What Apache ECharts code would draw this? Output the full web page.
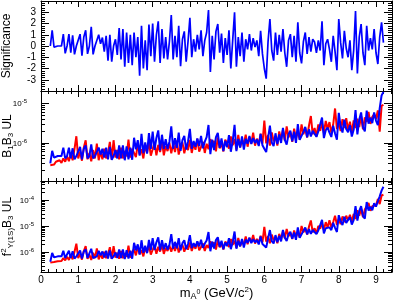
<!DOCTYPE html>
<html><head><meta charset="utf-8">
<script src="https://cdn.jsdelivr.net/npm/echarts@6/dist/echarts.min.js"></script>
<style>html,body{margin:0;padding:0;background:#fff}#c{width:398px;height:300px}</style>
</head><body><div id="c"></div>
<script>
// Mass points (GeV/c^2)
const massGeV = [
0.25,0.30,0.35,0.40,0.45,0.50,0.55,0.60,0.65,0.70,0.75,0.80,0.85,0.90,0.95,
1.00,1.05,1.10,1.15,1.20,1.25,1.30,1.35,1.40,1.45,1.50,1.55,1.60,1.65,1.70,1.75,1.80,1.85,1.90,1.95,
2.00,2.05,2.10,2.15,2.20,2.25,2.30,2.35,2.40,2.45,2.50,2.55,2.60,2.65,2.70,2.75,2.80,2.85,2.90,2.95,
3.00,3.05,3.10,3.15,3.20,3.25,3.30,3.35,3.40,3.45,3.50,3.55,3.60,3.65,3.70,3.75,3.80,3.85,3.90,3.95,
4.00,4.05,4.10,4.15,4.20,4.25,4.30,4.35,4.40,4.45,4.50,4.55,4.60,4.65,4.70,4.75,4.80,4.85,4.90,4.95,
5.00,5.05,5.10,5.15,5.20,5.25,5.30,5.35,5.40,5.45,5.50,5.55,5.60,5.65,5.70,5.75,5.80,5.85,5.90,5.95,
6.00,6.05,6.10,6.15,6.20,6.25,6.30,6.35,6.40,6.45,6.50,6.55,6.60,6.65,6.70,6.75,6.80,6.85,6.90,6.95,
7.00,7.05,7.10,7.15,7.20,7.25,7.30,7.35,7.40,7.45,7.50,7.55,7.60,7.65,7.70,7.75,7.80,7.85,7.90,7.95,
8.00,8.05,8.10,8.15,8.20,8.25,8.30,8.35,8.40,8.45,8.50,8.55,8.60,8.65,8.70,8.75,8.80,8.85,8.90,8.95,
9.00,9.05,9.10,9.15,9.20];

// Significance
const significance = [
0,1.4,-0.1,0,0,0,0,1.05,-0.65,0,1.05,-0.6,0.95,-0.75,0,
0,1.05,-0.85,0.8,1.4,-0.7,0,1.7,-0.75,0,0,1.0,0.2,0.75,-0.5,0.9,-1.3,1.0,-1.4,0,
0.6,-0.8,1.6,-1.2,1.5,-1.85,1.2,-1.5,1.0,-1.7,
1.2,-1.0,0.8,-2.65,1.8,-2.0,0.5,-2.15,1.9,-0.9,
2.0,-1.4,1.0,2.2,-1.5,1.5,-1.1,0.8,-1.2,0.4,
2.75,-1.2,0.9,-1.0,1.8,-1.8,0.6,1.3,-1.4,0.4,
2.5,-1.0,0.6,-0.5,1.0,-0.3,1.4,-0.9,0.5,1.2,
3.2,-2.3,0.9,-1.2,1.3,1.95,-0.6,1.1,-1.5,0.7,
-0.8,1.4,-2.0,0.5,3.0,-1.85,0.8,-0.9,1.2,-1.4,
0.6,-0.3,1.05,-0.4,0.7,-0.1,0.5,-0.9,1.35,-0.7,
-2.0,-2.9,0.4,2.4,-0.4,-1.3,1.2,-0.8,1.0,-0.5,
1.5,-0.6,-1.85,0.5,1.05,-1.0,0.9,-1.4,2.1,-0.6,
-1.55,0.4,1.2,-0.7,0.8,-0.5,0.6,0.35,-0.6,0.5,
-0.4,2.2,-1.7,0.2,0.6,-0.3,-1.4,0.9,-0.5,-2.15,
2.4,0.3,-1.1,1.35,-0.2,-1.0,0.5,-2.15,-0.4,3.1,
-2.45,0.8,1.95,-0.6,-1.7,1.8,-0.4,0.7,-0.3,1.5,
-0.6,-1.6,0.8,2.1,0.3];

// B1*B3 upper limits, in units of 1e-6
const b1b3UL_red = [
0.27,0.30,0.28,0.33,0.30,0.36,0.31,0.40,0.33,0.45,0.34,0.55,0.36,0.70,1.45,
0.40,0.60,0.35,0.75,1.15,0.38,0.55,0.34,0.65,0.40,0.95,0.36,0.60,0.38,0.70,0.40,0.55,1.05,0.38,1.15,
0.42,0.65,0.38,0.75,0.40,0.62,0.45,1.20,0.42,0.70,
0.74,0.43,0.93,0.50,0.68,0.40,0.87,0.56,1.05,0.47,
0.68,1.02,0.48,0.88,0.58,1.09,0.48,0.82,0.61,0.99,
0.54,0.94,0.58,1.12,0.50,0.79,1.01,0.54,0.90,0.65,
1.17,0.55,0.94,0.66,1.25,0.59,0.78,1.05,0.55,0.94,
0.68,1.23,0.77,1.11,0.60,1.36,0.72,0.98,0.60,1.19,
0.95,0.71,1.43,0.86,1.24,0.67,1.57,0.76,1.14,0.95,
1.58,0.79,1.37,0.95,1.79,0.84,1.26,0.89,1.68,0.95,
3.60,0.96,1.56,0.84,1.80,1.08,1.44,0.84,1.92,1.20,
2.10,1.13,2.55,1.35,1.80,1.05,2.25,1.28,1.95,1.20,
2.88,1.62,2.34,1.35,2.70,4.68,1.62,2.34,1.44,2.88,
1.98,3.08,1.76,3.52,2.20,3.30,1.76,2.86,7.26,2.20,
3.12,1.95,3.90,2.34,4.16,2.08,3.38,1.82,3.64,2.34,
4.03,2.48,4.65,2.17,4.34,3.33,5.92,2.96,4.44,5.18,
4.0,6.5,1.9,8.4,9.0];
const b1b3UL_blue = [
0.30,0.62,0.42,0.46,0.46,0.46,0.46,0.75,0.40,0.46,0.75,0.40,0.72,0.38,0.46,
0.46,0.78,0.38,0.70,0.85,0.40,0.46,0.90,0.40,0.46,0.46,0.75,0.50,0.70,0.42,0.75,0.38,0.78,0.37,0.46,
0.65,0.40,0.85,0.40,0.85,0.36,0.80,0.38,0.75,0.37,
1.33,0.68,1.15,0.47,1.66,0.54,1.02,0.53,1.73,0.70,
1.89,0.66,1.31,2.03,0.64,1.58,0.70,1.22,0.69,1.04,
2.56,0.70,1.29,0.74,1.79,0.62,1.15,1.49,0.67,1.07,
2.23,0.70,1.10,0.79,1.28,0.82,1.48,0.72,1.06,1.37,
2.79,0.51,1.19,0.65,1.38,1.75,0.74,1.28,0.61,1.11,
0.77,1.55,0.59,1.10,2.81,0.61,1.24,0.75,1.44,0.67,
1.25,0.94,1.48,0.92,1.30,0.98,1.20,0.82,1.65,0.86,
0.70,0.58,1.28,2.68,1.01,0.82,1.72,0.92,1.60,0.98,
2.36,1.18,0.89,1.62,2.00,1.08,1.89,0.99,2.94,1.18,
1.13,1.86,2.50,1.37,2.16,1.43,2.00,1.82,1.40,1.92,
1.74,4.29,1.30,2.05,2.38,1.78,1.39,2.66,1.70,1.18,
5.61,2.58,1.80,3.80,2.20,1.84,2.76,1.42,2.10,6.60,
1.62,3.78,5.77,2.45,1.92,6.44,3.02,4.29,3.09,5.78,
3.6,2.75,7.4,15.4,19.0];

// f^2 * B3 upper limits, in units of 1e-6
const f2b3UL_red = [
0.39,0.44,0.41,0.48,0.44,0.52,0.45,0.58,0.48,0.65,0.49,0.80,0.52,1.02,2.10,
0.58,0.87,0.51,1.09,1.67,0.55,0.80,0.49,0.94,0.58,1.38,0.52,0.87,0.55,1.02,0.58,0.80,1.52,0.55,1.67,
0.61,0.94,0.55,1.09,0.58,0.90,0.65,1.74,0.61,1.02,
1.26,0.74,1.58,0.84,1.16,0.68,1.47,0.95,1.79,0.79,
1.22,1.83,0.85,1.59,1.04,1.95,0.85,1.46,1.10,1.77,
1.03,1.78,1.10,2.12,0.96,1.51,1.92,1.03,1.71,1.23,
2.34,1.09,1.87,1.33,2.50,1.17,1.56,2.11,1.09,1.87,
1.43,2.60,1.61,2.33,1.25,2.86,1.52,2.06,1.25,2.51,
2.09,1.57,3.14,1.88,2.72,1.46,3.45,1.67,2.51,2.09,
3.98,1.99,3.45,2.39,4.51,2.12,3.18,2.24,4.23,2.39,
9.36,2.50,4.06,2.18,4.68,2.81,3.74,2.18,4.99,3.12,
6.30,3.38,7.65,4.05,5.40,3.15,6.75,3.83,5.85,3.60,
10.1,5.67,8.19,4.73,9.45,16.4,5.67,8.19,5.04,10.1,
7.92,12.3,7.04,14.1,8.80,16.5,8.80,14.3,25.0,11.0,
18.7,11.7,23.4,14.0,25.0,16.6,27.0,14.6,29.1,18.7,
40.3,24.8,46.5,21.7,43.4,43.3,77.0,38.5,57.7,67.3,
63,110,70,150,160];
const f2b3UL_blue = [
0.42,0.92,0.62,0.68,0.68,0.68,0.68,1.11,0.59,0.68,1.11,0.59,1.07,0.56,0.68,
0.68,1.15,0.56,1.04,1.26,0.59,0.68,1.33,0.59,0.68,0.68,1.11,0.74,1.04,0.62,1.11,0.56,1.15,0.55,0.68,
0.96,0.59,1.26,0.59,1.26,0.53,1.18,0.56,1.11,0.55,
2.26,1.16,1.96,0.80,2.83,0.93,1.74,0.90,2.94,1.19,
3.40,1.19,2.35,3.66,1.16,2.84,1.27,2.19,1.24,1.88,
4.87,1.34,2.45,1.40,3.41,1.17,2.19,2.84,1.28,2.03,
4.45,1.41,2.20,1.57,2.55,1.65,2.96,1.44,2.11,2.75,
5.87,1.07,2.51,1.37,2.90,3.69,1.57,2.69,1.28,2.33,
1.69,3.39,1.29,2.42,6.16,1.34,2.73,1.65,3.15,1.48,
3.00,2.26,3.55,2.21,3.12,2.35,2.88,1.96,3.96,2.05,
1.83,1.50,3.32,6.98,2.62,2.14,4.46,2.39,4.15,2.56,
7.09,3.54,2.68,4.86,5.99,3.24,5.67,2.96,8.83,3.54,
3.96,6.50,8.74,4.79,7.56,5.00,7.00,6.38,4.90,6.72,
6.95,17.2,5.20,8.19,9.50,8.88,6.95,13.3,8.49,5.88,
26.0,15.5,10.8,22.8,13.2,14.7,22.1,11.4,16.8,58.1,
16.2,37.8,57.7,24.5,19.2,83.7,39.3,55.8,40.1,75.1,
56,50,140,230,325];

// Log-axis tick values (majors are labelled)
const midMajorTicks = [1e-6, 1e-5];
const midMinorTicks = [2e-7,3e-7,4e-7,5e-7,6e-7,7e-7,8e-7,9e-7,2e-6,3e-6,4e-6,5e-6,6e-6,7e-6,8e-6,9e-6];
const botMajorTicks = [1e-6, 1e-5, 1e-4];
const botMinorTicks = [2e-7,3e-7,4e-7,5e-7,6e-7,7e-7,8e-7,9e-7,2e-6,3e-6,4e-6,5e-6,6e-6,7e-6,8e-6,9e-6,
  2e-5,3e-5,4e-5,5e-5,6e-5,7e-5,8e-5,9e-5,2e-4,3e-4,4e-4,5e-4];

const X_MIN = 0, X_MAX = 9.43;
const FONT = '"Liberation Sans", Arial, Helvetica, sans-serif';
const BLUE = '#0000ff', RED = '#ff0000';

const toPairs = (arr, scale) => massGeV.map((m, i) => [m, arr[i] * scale]);

const chart = echarts.init(document.getElementById('c'), null, {renderer: 'canvas'});

const grids = [
  {left: 41, right: 6, top: 1, height: 90, containLabel: false, outerBoundsMode: 'none'},
  {left: 41, right: 6, top: 91, height: 90, containLabel: false, outerBoundsMode: 'none'},
  {left: 41, right: 6, top: 181, height: 91, containLabel: false, outerBoundsMode: 'none'}
];

function xAx(g, pos, labels) {
  return {
    type: 'value', gridIndex: g, position: pos, min: X_MIN, max: X_MAX, interval: 1,
    axisLine: {show: true, onZero: false, lineStyle: {color: '#000', width: 1}},
    axisTick: {show: true, inside: true, length: 6, lineStyle: {color: '#000'}},
    minorTick: {show: true, splitNumber: 5, length: 3, lineStyle: {color: '#000'}},
    splitLine: {show: false},
    axisLabel: {show: labels, margin: 3, fontFamily: FONT, fontSize: 10, color: '#000',
      formatter: v => (Math.abs(v - Math.round(v)) < 1e-9 ? String(Math.round(v)) : '')},
    name: labels ? '{t|m}{s|A}{z|0}{t| (GeV/c}{p|2}{t|)}' : '',
    nameLocation: 'middle', nameGap: 13,
    nameTextStyle: {fontFamily: FONT, color: '#000', rich: {
      t: {fontSize: 13, fontFamily: FONT, color: '#000'},
      s: {fontSize: 9, fontFamily: FONT, color: '#000', padding: [7, 0, 0, 0]},
      z: {fontSize: 7, fontFamily: FONT, color: '#000', padding: [0, 0, 2, 0]},
      p: {fontSize: 8, fontFamily: FONT, color: '#000', padding: [0, 0, 7, 0]}
    }}
  };
}

function sigY(pos) {
  return {
    type: 'value', gridIndex: 0, position: pos, min: -4, max: 4, interval: 1,
    axisLine: {show: true, onZero: false, lineStyle: {color: '#000'}},
    axisTick: {show: true, inside: true, length: 8, lineStyle: {color: '#000'}},
    minorTick: {show: true, splitNumber: 5, length: 4, lineStyle: {color: '#000'}},
    splitLine: {show: false},
    axisLabel: {show: pos === 'left', margin: 5, align: 'right', fontFamily: FONT, fontSize: 10, color: '#000',
      formatter: v => (Math.abs(v) > 3.5 ? '' : String(v))},
    name: pos === 'left' ? 'Significance' : '',
    nameLocation: 'middle', nameGap: 28, nameRotate: 90,
    nameTextStyle: {fontFamily: FONT, fontSize: 12, color: '#000'}
  };
}

function logY(g, pos, min, max, name) {
  return {
    type: 'log', logBase: 10, gridIndex: g, position: pos, min: min, max: max,
    axisLine: {show: true, onZero: false, lineStyle: {color: '#000'}},
    axisTick: {show: false}, minorTick: {show: false}, splitLine: {show: false},
    axisLabel: {show: false},
    name: pos === 'left' ? name : '',
    nameLocation: 'middle', nameGap: 26, nameRotate: 90,
    nameTextStyle: {fontFamily: FONT, color: '#000', rich: {
      t: {fontSize: 12, fontFamily: FONT, color: '#000'},
      s: {fontSize: 8, fontFamily: FONT, color: '#000', padding: [6, 0, 0, 0]},
      p: {fontSize: 8, fontFamily: FONT, color: '#000', padding: [0, 0, 7, 0]}
    }}
  };
}

// Ticks (both sides) and decade labels for the log axes, placed through the axis scale.
function tickSeries(xi, yi, minor, major, labelGap) {
  const data = minor.map(v => [X_MIN, v, 0]).concat(major.map(v => [X_MIN, v, 1]));
  return {
    type: 'custom', xAxisIndex: xi, yAxisIndex: yi, silent: true, z: 5, clip: false,
    data: data,
    renderItem: function (params, api) {
      const v = api.value(1), big = api.value(2);
      const L = api.coord([X_MIN, v]), R = api.coord([X_MAX, v]);
      const len = big ? 8 : 4;
      const y = Math.round(L[1]) + 0.5;
      const children = [
        {type: 'line', shape: {x1: L[0], y1: y, x2: L[0] + len, y2: y}, style: {stroke: '#000', lineWidth: 1}},
        {type: 'line', shape: {x1: R[0], y1: y, x2: R[0] - len, y2: y}, style: {stroke: '#000', lineWidth: 1}}
      ];
      if (big) {
        const e = Math.round(Math.log10(v));
        children.push({type: 'text', style: {
          x: L[0] - labelGap, y: y, text: '{b|10}{e|' + e + '}', align: 'right', verticalAlign: 'middle',
          fill: '#000', fontFamily: FONT,
          rich: {
            b: {fontSize: 8, fontFamily: FONT, fill: '#000', color: '#000'},
            e: {fontSize: 6, fontFamily: FONT, fill: '#000', color: '#000', padding: [0, 0, 5, 0]}
          }}});
      }
      return {type: 'group', children: children};
    }
  };
}

function line(xi, yi, data, color, w) {
  return {type: 'line', xAxisIndex: xi, yAxisIndex: yi, data: data, showSymbol: false,
    symbol: 'none', lineStyle: {color: color, width: w}, itemStyle: {color: color}, z: 3};
}

const option = {
  animation: false,
  backgroundColor: '#fff',
  grid: grids,
  xAxis: [xAx(0, 'bottom', false), xAx(0, 'top', false),
          xAx(1, 'bottom', false), xAx(1, 'top', false),
          xAx(2, 'bottom', true), xAx(2, 'top', false)],
  yAxis: [sigY('left'), sigY('right'),
          logY(1, 'left', 1.08e-7, 2.0e-5, '{t|B}{s|1}{t|B}{s|3}{t| UL}'),
          logY(1, 'right', 1.08e-7, 2.0e-5, ''),
          logY(2, 'left', 1.7e-7, 5.4e-4, '{t|f}{p|2}{s|Υ(1S)}{t|B}{s|3}{t| UL}'),
          logY(2, 'right', 1.7e-7, 5.4e-4, '')],
  series: [
    line(0, 0, toPairs(significance, 1), BLUE, 1.7),
    line(2, 2, toPairs(b1b3UL_red, 1e-6), RED, 2),
    line(2, 2, toPairs(b1b3UL_blue, 1e-6), BLUE, 2),
    line(4, 4, toPairs(f2b3UL_red, 1e-6), RED, 2),
    line(4, 4, toPairs(f2b3UL_blue, 1e-6), BLUE, 2),
    tickSeries(2, 2, midMinorTicks, midMajorTicks, 14),
    tickSeries(4, 4, botMinorTicks, botMajorTicks, 7)
  ]
};
chart.setOption(option);
</script>
</body></html>
